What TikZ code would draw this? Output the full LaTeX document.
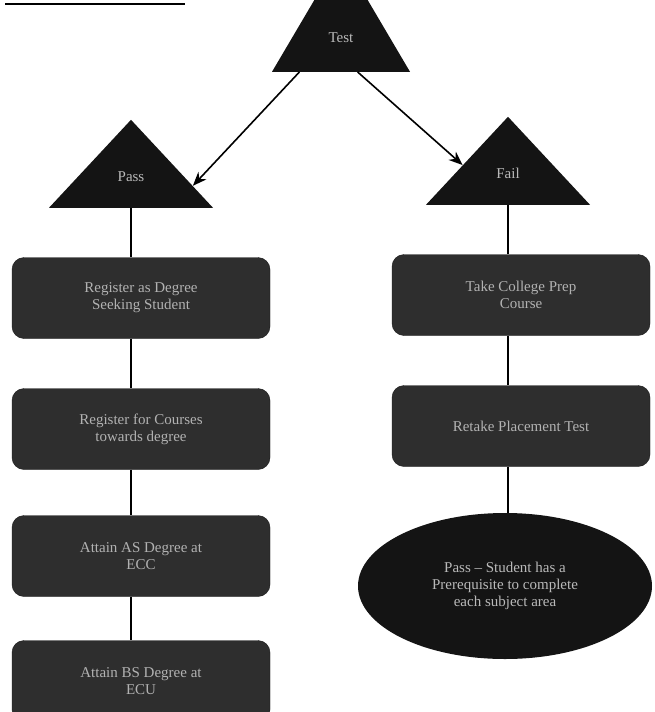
\documentclass[tikz,border=0pt]{standalone}
\usepackage{fontspec}
\setmainfont{Liberation Serif}
\usetikzlibrary{positioning, arrows.meta, calc, shapes.geometric}

\begin{document}
\begin{tikzpicture}[x=1pt, y=-1pt, font=\fontsize{15}{17}\selectfont,
        every node/.style={align=center},
        tri/.style={isosceles triangle, isosceles triangle stretches, shape border rotate=90,
            fill=black!92, text=gray!55, inner sep=0pt, minimum width=#1},
        stepbox/.style={draw=black!90, rounded corners=12pt, fill=black!82, text=gray!60,
            minimum width=258pt, minimum height=81pt, inner sep=2pt},
        goal/.style={ellipse, fill=black!92, text=gray!55, minimum width=294pt, minimum height=146pt, inner sep=0pt},
        arrow/.style={-{Stealth[length=14pt, width=11pt]}, line width=1.6pt},
        link/.style={line width=1.2pt}]

        \useasboundingbox (0,0) rectangle (654,712);

        % stray rule at the top left
        \coordinate (rule-a) at (5,4);
        \coordinate (rule-b) at (185,4);
        \draw[line width=1.4pt] (rule-a) -- (rule-b);

        % three triangles
        \node[tri=138pt, minimum height=117pt, anchor=lower side] (test) at (341,72) {Test};
        \node[tri=164pt, minimum height=88pt, anchor=lower side] (pass) at (131,208) {Pass};
        \node[tri=164pt, minimum height=88pt, anchor=lower side] (fail) at (508,205) {Fail};

        % arrows between triangles
        \draw[arrow] ($(test.left corner)!0.2!(test.right corner)$) -- ($(pass.apex)!0.75!(pass.right corner)$);
        \draw[arrow] ($(test.left corner)!0.62!(test.right corner)$) -- ($(fail.apex)!0.55!(fail.left corner)$);

        % left column
        \node[stepbox] (reg-degree) at (141,298) {Register as Degree\\Seeking Student};
        \node[stepbox] (reg-course) at (141,429) {Register for Courses\\towards degree};
        \node[stepbox] (attain-as)  at (141,556) {Attain AS Degree at\\ECC};
        \node[stepbox] (attain-bs)  at (141,681) {Attain BS Degree at\\ECU};

        % right column
        \node[stepbox] (prep)   at (521,295) {Take College Prep\\Course};
        \node[stepbox] (retake) at (521,426) {Retake Placement Test};
        \node[goal]    (done)   at (505,586) {Pass -- Student has a\\Prerequisite to complete\\each subject area};

        % vertical links
        \draw[link] (pass.lower side) -- (pass.lower side |- reg-degree.north);
        \draw[link] (reg-degree.south -| pass.apex) -- (reg-course.north -| pass.apex);
        \draw[link] (reg-course.south -| pass.apex) -- (attain-as.north -| pass.apex);
        \draw[link] (attain-as.south -| pass.apex) -- (attain-bs.north -| pass.apex);

        \draw[link] (fail.lower side) -- (fail.lower side |- prep.north);
        \draw[link] (prep.south -| fail.apex) -- (retake.north -| fail.apex);
        \draw[link] (retake.south -| fail.apex) -- (done.north -| fail.apex);
    \end{tikzpicture}
\end{document}
